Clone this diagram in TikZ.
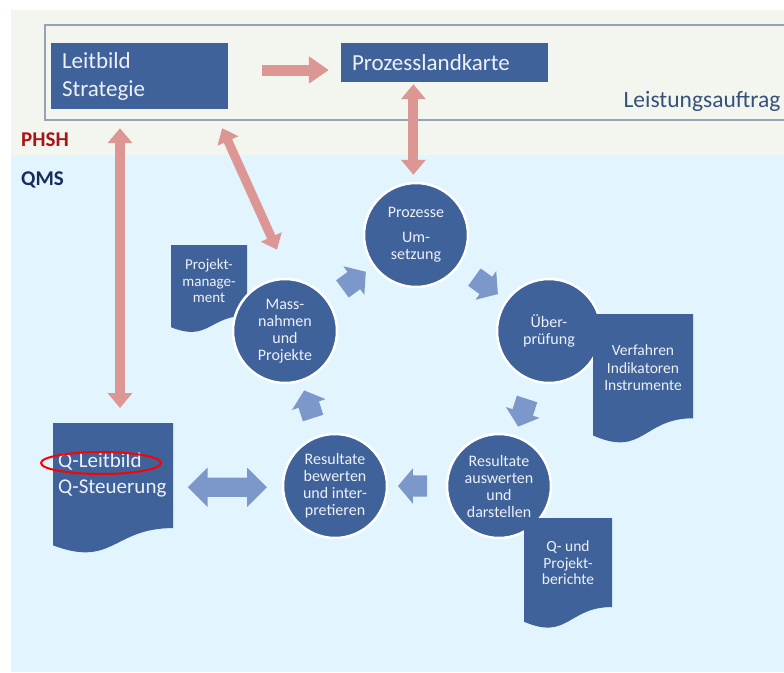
\documentclass[tikz,border=0pt]{standalone}
\usepackage{fontspec}
\setmainfont{Carlito}
\usetikzlibrary{shapes.arrows,shapes.geometric,arrows.meta,calc}
\definecolor{topband}{RGB}{243,246,238}
\definecolor{lowband}{RGB}{226,244,253}
\definecolor{boxblue}{RGB}{64,98,154}
\definecolor{boxtext}{RGB}{236,241,248}
\definecolor{flowblue}{RGB}{124,152,202}
\definecolor{pinkarr}{RGB}{220,150,148}
\definecolor{framec}{RGB}{150,163,178}
\definecolor{labblue}{RGB}{52,82,122}
\definecolor{phshred}{RGB}{170,20,25}
\definecolor{qmsblue}{RGB}{22,45,90}
% document shape: x, y (top left), width, height, name
\newcommand{\docshape}[5]{%
  \fill[boxblue] (#1,#2) -- ({#1+#3},#2) -- ({#1+#3},{#2+0.802*#4})
    .. controls ({#1+0.5*#3},{#2+0.802*#4}) and ({#1+0.5*#3},{#2+1.107*#4}) .. (#1,{#2+0.934*#4}) -- cycle;
  \node[inner sep=0pt, outer sep=0pt, minimum width=#3pt, minimum height=#4pt, anchor=north west] (#5) at (#1,#2) {};}
\begin{document}
\begin{tikzpicture}[x=1pt,y=-1pt,
  sbox/.style={rectangle, fill=boxblue, text=boxtext, font=\fontsize{23}{28}\selectfont, align=left, inner xsep=11pt, inner ysep=0pt},
  circ/.style={circle, fill=boxblue, draw=white, line width=2.5pt, minimum size=104pt, inner sep=0pt, text=boxtext, font=\fontsize{16}{17}\selectfont, align=center},
  doctext/.style={text=boxtext, align=center, inner sep=0pt},
  flow/.style={single arrow, fill=flowblue, minimum height=29pt, single arrow head extend=7pt, single arrow tip angle=100, inner xsep=0pt, inner ysep=10.5pt, sloped, allow upside down},
  dflow/.style={double arrow, fill=flowblue, minimum height=79pt, double arrow head extend=10pt, double arrow tip angle=90, inner xsep=0pt, inner ysep=9.5pt},
  pinkone/.style={draw=pinkarr, line width=11pt, -{Triangle[length=20pt,width=26pt]}},
  pinkboth/.style={draw=pinkarr, line width=10pt, {Triangle[length=15pt,width=24pt]}-{Triangle[length=15pt,width=24pt]}},
  pinkthin/.style={draw=pinkarr, line width=9pt, {Triangle[length=14pt,width=22pt]}-{Triangle[length=14pt,width=22pt]}}
]
\useasboundingbox (0,0) rectangle (784,672);
\fill[white] (0,0) rectangle (784,672);
\fill[topband] (11,10) rectangle (784,155);
\fill[lowband] (11,155) rectangle (784,672);
\draw[framec, line width=1.5pt] (784,25) -- (45,25) -- (45,120) -- (784,120);

% top boxes and labels
\node[sbox, text width=155pt, minimum height=66pt] (leit) at (139.5,76) {Leitbild\\Strategie};
\node[sbox, text width=185pt, minimum height=39pt] (plk) at (444.5,62.5) {Prozesslandkarte};
\node[text=labblue, font=\fontsize{23.5}{26}\selectfont, inner sep=0pt] (la) at (702,101) {Leistungsauftrag};
\node[anchor=west, text=phshred, font=\bfseries\fontsize{21}{22}\selectfont, inner sep=0pt] (phsh) at (21,140) {PHSH};
\node[anchor=west, text=qmsblue, font=\bfseries\fontsize{21}{22}\selectfont, inner sep=0pt] (qms) at (21,180) {QMS};

% document behind circle
\docshape{171}{245}{76}{88}{pmdoc}
\node[doctext, font=\fontsize{15}{16.5}\selectfont] (pmt) at (209,281) {Projekt-\\manage-\\ment};

% circles
\node[circ] (proz) at (416,235) {Prozesse\\[8pt]Um-\\setzung};
\node[circ] (ueber) at (549,331) {Über-\\prüfung};
\node[circ] (ausw) at (499,486) {Resultate\\auswerten\\und\\darstellen};
\node[circ] (bew) at (335,486) {Resultate\\bewerten\\und inter-\\pretieren};
\node[circ] (mass) at (285,331) {Mass-\\nahmen\\und\\Projekte};

% documents in front
\docshape{593}{314}{100}{130}{verdoc}
\node[doctext, font=\fontsize{15.5}{17.5}\selectfont] (vert) at (643,368) {Verfahren\\Indikatoren\\Instrumente};
\docshape{524}{518}{88}{111}{qbdoc}
\node[doctext, font=\fontsize{15.5}{16.5}\selectfont] (qbt) at (568,563) {Q- und\\Projekt-\\berichte};
\docshape{53}{423}{120}{131}{qldoc}
\node[doctext, align=left, anchor=west, font=\fontsize{21}{26}\selectfont] (qlt) at (58,475) {Q-Leitbild\\Q-Steuerung};

% pink arrows
\coordinate (pa) at ($(plk.south west)!0.35!(plk.south east)$);
\coordinate (pb) at ($(leit.south west)!0.39!(leit.south east)$);
\draw[pinkone] ($(leit.east)+(34,-6)$) -- ($(plk.west)+(-12,7.5)$);
\draw[pinkboth, shorten <=2pt, shorten >=7pt] (pa) -- (pa |- proz.north);
\draw[pinkboth, shorten <=19pt, shorten >=15pt] (pb) -- (pb |- qldoc.north);
\draw[pinkthin] ($(leit.south east)+(-6,19)$) -- ($(mass.north)+(-8,-28)$);

% blue flow arrows
\path (mass) -- (proz) node[flow, midway] (f1) {};
\path (proz) -- (ueber) node[flow, midway] (f2) {};
\path (ueber) -- (ausw) node[flow, midway] (f3) {};
\path (ausw) -- (bew) node[flow, midway] (f4) {};
\path (bew) -- (mass) node[flow, midway] (f5) {};
\path (qldoc.east) -- (bew.west) node[dflow, midway] (f6) {};

% red marker
\node[ellipse, draw=red, line width=2pt, minimum width=120pt, minimum height=22pt, inner sep=0pt] (mark) at (101,463) {};
\end{tikzpicture}
\end{document}
